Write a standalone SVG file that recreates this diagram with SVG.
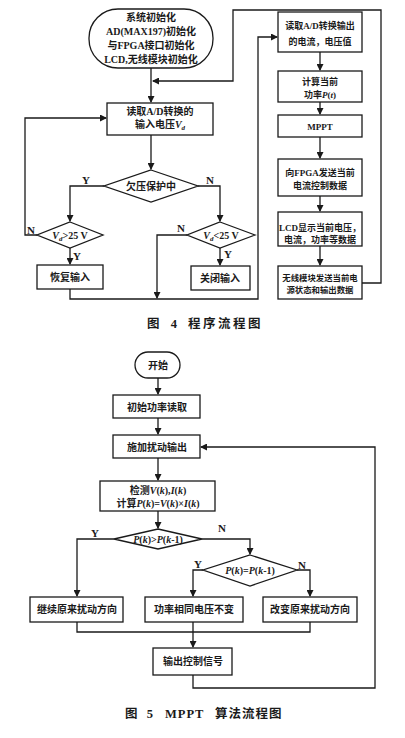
<svg xmlns="http://www.w3.org/2000/svg" width="405" height="738" viewBox="0 0 405 738">
<defs>
<marker id="ah" markerWidth="7" markerHeight="7" refX="6" refY="3.5" orient="auto" markerUnits="userSpaceOnUse">
<path d="M0,0 L7,3.5 L0,7 Z" fill="#1a1a1a"/>
</marker>
<style>
.n{fill:#fff;stroke:#1a1a1a;stroke-width:1.3}
.c{fill:none;stroke:#1a1a1a;stroke-width:1.3}
.a{marker-end:url(#ah)}
text{font-family:"Liberation Serif","Noto Sans CJK SC",serif;font-size:10px;font-weight:bold;fill:#1a1a1a;text-anchor:middle}
.s{font-size:9px}
.xs{font-size:8.4px}
.lb{font-size:11px}
.cap{font-size:12.5px;text-anchor:start}
.i{font-style:italic}
</style>
</defs>
<rect width="405" height="738" fill="#fff"/>

<g id="connectors">
<!-- Fig 4 -->
<path class="c a" d="M151,68 V102"/>
<path class="c a" d="M362,283 H381 V10 H233 V81 H153"/>
<path class="c a" d="M151,135 V169"/>
<path class="c a" d="M104,186 H70 V221"/>
<path class="c a" d="M198,186 H220 V221"/>
<path class="c a" d="M37,235 H25 V118 H106"/>
<path class="c a" d="M70,248 V264"/>
<path class="c a" d="M70,289 V299 H258 V37 H277"/>
<path class="c a" d="M187,235 H157 V298"/>
<path class="c a" d="M220,248 V265"/>
<path class="c a" d="M320,52 V70"/>
<path class="c a" d="M320,102 V114"/>
<path class="c a" d="M320,137 V158"/>
<path class="c a" d="M320,196 V211"/>
<path class="c a" d="M320,246 V265"/>
<!-- Fig 5 -->
<path class="c a" d="M158,378 V394"/>
<path class="c a" d="M158,418 V434"/>
<path class="c a" d="M158,458 V480"/>
<path class="c a" d="M158,511 V528"/>
<path class="c a" d="M114,539 H77 V596"/>
<path class="c a" d="M202,539 H250 V554"/>
<path class="c a" d="M203,570 H193 V596"/>
<path class="c a" d="M297,570 H310 V596"/>
<path class="c" d="M77,622 V632 H310 V622"/>
<path class="c a" d="M193,622 V647"/>
<path class="c a" d="M193,675 V688 H375 V447 H201"/>
</g>

<g id="labels">
<text class="lb" x="86" y="184">Y</text>
<text class="lb" x="210" y="184">N</text>
<text class="lb" x="31" y="234">N</text>
<text class="lb" x="77" y="260">Y</text>
<text class="lb" x="181" y="232">N</text>
<text class="lb" x="228" y="258">Y</text>
<text class="lb" x="95" y="537">Y</text>
<text class="lb" x="222" y="532">N</text>
<text class="lb" x="198" y="568">Y</text>
<text class="lb" x="302" y="569">N</text>
</g>

<g id="start4">
<rect class="n" x="89" y="9" width="124" height="59" rx="29"/>
<text x="151" y="21">系统初始化</text>
<text x="151" y="35">AD(MAX197)初始化</text>
<text x="151" y="49">与FPGA接口初始化</text>
<text x="151" y="63">LCD,无线模块初始化</text>
</g>
<g id="readInput">
<rect class="n" x="107" y="103" width="106" height="32"/>
<text x="160" y="115">读取A/D转换的</text>
<text x="160" y="128">输入电压<tspan class="i">V</tspan><tspan font-size="7" dy="2" class="i">d</tspan></text>
</g>
<g id="undervolt">
<path class="n" d="M151,170 L198,186 L151,202 L104,186 Z"/>
<text x="151" y="190">欠压保护中</text>
</g>
<g id="vgt25">
<path class="n" d="M70,222 L103,235 L70,248 L37,235 Z"/>
<text x="70" y="239"><tspan class="i">V</tspan><tspan font-size="7" dy="2" class="i">d</tspan><tspan dy="-2">&gt;25 V</tspan></text>
</g>
<g id="resume">
<rect class="n" x="37" y="265" width="66" height="24"/>
<text x="70" y="281">恢复输入</text>
</g>
<g id="vlt25">
<path class="n" d="M220,222 L255,235 L220,248 L187,235 Z"/>
<text x="221" y="239"><tspan class="i">V</tspan><tspan font-size="7" dy="2" class="i">d</tspan><tspan dy="-2">&lt;25 V</tspan></text>
</g>
<g id="close">
<rect class="n" x="191" y="266" width="59" height="24"/>
<text x="220" y="282">关闭输入</text>
</g>
<g id="r1">
<rect class="n" x="278" y="12" width="84" height="40"/>
<text class="s" x="320" y="29">读取A/D转换输出</text>
<text class="s" x="320" y="45">的电流，电压值</text>
</g>
<g id="r2">
<rect class="n" x="278" y="71" width="84" height="31"/>
<text class="s" x="320" y="85">计算当前</text>
<text class="s" x="320" y="98">功率<tspan class="i">P</tspan>(<tspan class="i">t</tspan>)</text>
</g>
<g id="r3">
<rect class="n" x="278" y="115" width="84" height="22"/>
<text class="s" x="320" y="130">MPPT</text>
</g>
<g id="r4">
<rect class="n" x="278" y="159" width="84" height="37"/>
<text class="s" x="320" y="176">向FPGA发送当前</text>
<text class="s" x="320" y="189">电流控制数据</text>
</g>
<g id="r5">
<rect class="n" x="278" y="212" width="84" height="34"/>
<text class="s" x="320" y="231">LCD显示当前电压，</text>
<text class="s" x="320" y="243">电流，功率等数据</text>
</g>
<g id="r6">
<rect class="n" x="278" y="266" width="84" height="33"/>
<text class="xs" x="320" y="281">无线模块发送当前电</text>
<text class="xs" x="320" y="293">源状态和输出数据</text>
</g>
<text class="cap" x="147" y="328"><tspan letter-spacing="4">图 4</tspan><tspan x="188" letter-spacing="2.5">程序流程图</tspan></text>

<g id="start5">
<rect class="n" x="135" y="352" width="45" height="26" rx="13"/>
<text x="158" y="369">开始</text>
</g>
<g id="initPower">
<rect class="n" x="113" y="395" width="87" height="23"/>
<text x="157" y="411">初始功率读取</text>
</g>
<g id="perturb">
<rect class="n" x="113" y="435" width="87" height="23"/>
<text x="157" y="451">施加扰动输出</text>
</g>
<g id="detect">
<rect class="n" x="100" y="481" width="115" height="30"/>
<text x="158" y="494">检测<tspan class="i">V</tspan>(<tspan class="i">k</tspan>),<tspan class="i">I</tspan>(<tspan class="i">k</tspan>)</text>
<text x="158" y="507">计算<tspan class="i">P</tspan>(<tspan class="i">k</tspan>)=<tspan class="i">V</tspan>(<tspan class="i">k</tspan>)×<tspan class="i">I</tspan>(<tspan class="i">k</tspan>)</text>
</g>
<g id="d1">
<path class="n" d="M158,529 L202,539 L158,549 L114,539 Z"/>
<text x="158" y="543"><tspan class="i">P</tspan>(<tspan class="i">k</tspan>)&gt;<tspan class="i">P</tspan>(<tspan class="i">k</tspan>-1)</text>
</g>
<g id="d2">
<path class="n" d="M250,555 L297,570 L250,586 L203,570 Z"/>
<text x="250" y="574"><tspan class="i">P</tspan>(<tspan class="i">k</tspan>)=<tspan class="i">P</tspan>(<tspan class="i">k</tspan>-1)</text>
</g>
<g id="keep">
<rect class="n" x="30" y="597" width="93" height="25"/>
<text x="77" y="613">继续原来扰动方向</text>
</g>
<g id="same">
<rect class="n" x="145" y="597" width="98" height="25"/>
<text x="194" y="613">功率相同电压不变</text>
</g>
<g id="change">
<rect class="n" x="263" y="597" width="94" height="25"/>
<text x="310" y="613">改变原来扰动方向</text>
</g>
<g id="output">
<rect class="n" x="153" y="648" width="79" height="27"/>
<text x="193" y="665">输出控制信号</text>
</g>
<text class="cap" x="125" y="718"><tspan letter-spacing="3">图 5</tspan><tspan x="165" letter-spacing="1">MPPT</tspan><tspan x="215" letter-spacing="1">算法流程图</tspan></text>
</svg>
